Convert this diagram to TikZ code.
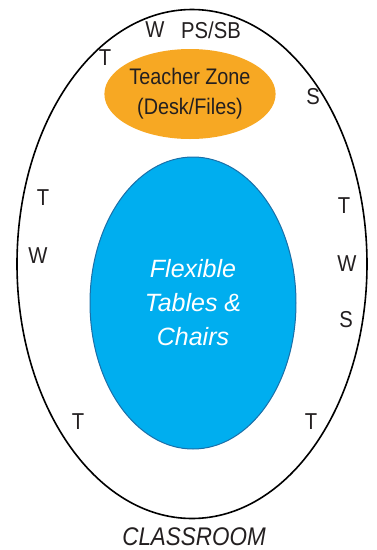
\documentclass[tikz,border=0pt]{standalone}
\usepackage{fontspec}
\setmainfont{Liberation Sans}
\newfontfamily\narrowfont[FakeStretch=0.88]{Liberation Sans}
\usetikzlibrary{shapes.geometric}
\definecolor{zoneorange}{HTML}{F7A823}
\definecolor{tableblue}{HTML}{00AEEF}
\definecolor{tableedge}{HTML}{1B6FA8}
\definecolor{labelgray}{HTML}{231F20}
\tikzset{
  room/.style={ellipse, draw=black, line width=1.6pt, minimum width=350pt, minimum height=509pt, inner sep=0pt},
  desk/.style={ellipse, fill=zoneorange, minimum width=170pt, minimum height=90pt, inner sep=0pt,
    text=labelgray, align=center, font=\narrowfont\fontsize{22.5}{30}\selectfont},
  tables/.style={ellipse, fill=tableblue, draw=tableedge, line width=1pt, minimum width=206pt, minimum height=292pt,
    inner sep=0pt, text=white, align=center, font=\fontsize{25}{34}\selectfont\itshape},
  spot/.style={text=labelgray, inner sep=0pt, font=\narrowfont\fontsize{23}{23}\selectfont}
}

\begin{document}
\begin{tikzpicture}[x=1pt, y=-1pt]
\useasboundingbox (0,0) rectangle (377,550);

\node[room] (room) at (192,264) {};
\node[desk] (desk) at (190,94) {Teacher Zone\\(Desk/Files)};
\node[tables] (tables) at (193,303) {Flexible\\Tables \&\\Chairs};

% letters round the wall
\node[spot] (w1) at (155,30) {W};
\node[spot] (pssb) at (211,30) {PS/SB};
\node[spot] (t1) at (105,58) {T};
\node[spot] (s1) at (313,97) {S};
\node[spot] (t2) at (43,198) {T};
\node[spot] (w2) at (38,256) {W};
\node[spot] (t3) at (344,206) {T};
\node[spot] (w3) at (347,264) {W};
\node[spot] (s2) at (346,320) {S};
\node[spot] (t4) at (78,422) {T};
\node[spot] (t5) at (311,422) {T};

\node[text=labelgray, inner sep=0pt, anchor=base, font=\narrowfont\fontsize{25.5}{25.5}\selectfont\itshape] (name) at (194,545) {CLASSROOM};
\end{tikzpicture}
\end{document}
